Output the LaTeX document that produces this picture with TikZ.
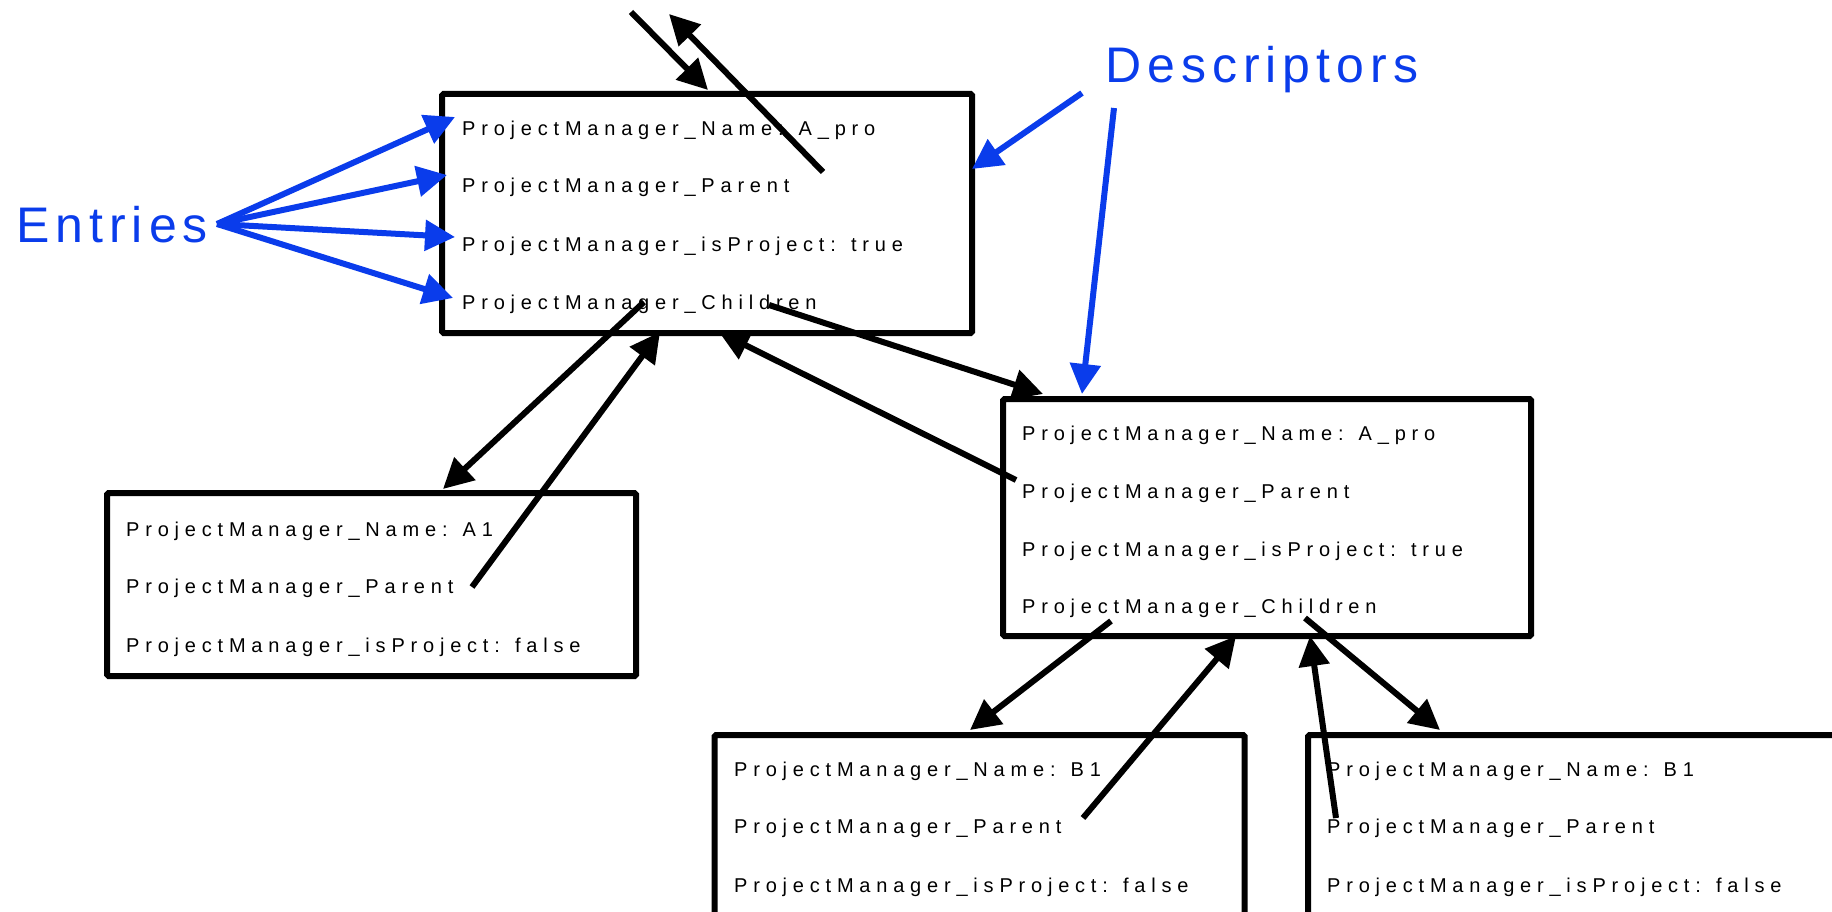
\documentclass[tikz,border=0pt]{standalone}
\usepackage{fontspec}
\setmainfont{Liberation Sans}
\newfontfamily\entryfont[LetterSpace=29]{Liberation Sans}
\newfontfamily\labelfont[LetterSpace=12]{Liberation Sans}
\usetikzlibrary{arrows.meta}
\definecolor{lblue}{RGB}{10,60,235}
\tikzset{
  box/.style={draw, line width=6pt, rounded corners=1.5pt, anchor=north west, inner sep=0pt},
  entry/.style={anchor=base west, inner sep=0pt, font=\entryfont\fontsize{20}{24}\selectfont},
  biglabel/.style={anchor=base west, inner sep=0pt, text=lblue, font=\labelfont\fontsize{50}{60}\selectfont},
  conn/.style={line width=6pt, -{Triangle[length=30pt,width=30pt]}},
  bconn/.style={conn, color=lblue}
}
\begin{document}
\begin{tikzpicture}[x=1pt,y=-1pt]
\useasboundingbox (0,0) rectangle (1832,912);
\clip (0,0) rectangle (1832,912);

% boxes
\node[box, minimum width=530pt, minimum height=239pt] (A) at (439,91) {};
\node[box, minimum width=528pt, minimum height=237pt] (B) at (1000,396) {};
\node[box, minimum width=529pt, minimum height=183pt] (C) at (104,490) {};
\node[box, minimum width=530pt, minimum height=200pt] (D) at (711.5,732) {};
\node[box, minimum width=530pt, minimum height=200pt] (E) at (1305,732) {};

% entries
\node[entry] (A1) at (462,136) {ProjectManager\_Name: A\_pro};
\node[entry] (A2) at (462,193) {ProjectManager\_Parent};
\node[entry] (A3) at (462,252) {ProjectManager\_isProject: true};
\node[entry] (A4) at (462,309) {ProjectManager\_Children};

\node[entry] (B1) at (1022,440) {ProjectManager\_Name: A\_pro};
\node[entry] (B2) at (1022,498) {ProjectManager\_Parent};
\node[entry] (B3) at (1022,556) {ProjectManager\_isProject: true};
\node[entry] (B4) at (1022,613) {ProjectManager\_Children};

\node[entry] (C1) at (126,536) {ProjectManager\_Name: A1};
\node[entry] (C2) at (126,593) {ProjectManager\_Parent};
\node[entry] (C3) at (126,652) {ProjectManager\_isProject: false};

\node[entry] (D1) at (734,776) {ProjectManager\_Name: B1};
\node[entry] (D2) at (734,833) {ProjectManager\_Parent};
\node[entry] (D3) at (734,892) {ProjectManager\_isProject: false};

\node[entry] (E1) at (1327,776) {ProjectManager\_Name: B1};
\node[entry] (E2) at (1327,833) {ProjectManager\_Parent};
\node[entry] (E3) at (1327,892) {ProjectManager\_isProject: false};

% labels
\node[biglabel] (Ent) at (16,243) {Entries};
\node[biglabel] (Desc) at (1105,83) {Descriptors};

% connector end points
\coordinate (topin) at (631,12);
\coordinate (Atop1) at (708,90);
\coordinate (Aname) at (823,172);
\coordinate (topout) at (669,14);
\coordinate (Achild1) at (644,302);
\coordinate (Ctop) at (443,489);
\coordinate (Cpar) at (472,587);
\coordinate (Abot1) at (660,332);
\coordinate (Achild2) at (769,305);
\coordinate (Btop1) at (1043,394);
\coordinate (Bpar) at (1016,480);
\coordinate (Abot2) at (719,332);
\coordinate (Bchild1) at (1111,621);
\coordinate (Dtop) at (970,730);
\coordinate (Dpar) at (1083,818);
\coordinate (Bbot1) at (1236,636);
\coordinate (Bchild2) at (1305,618);
\coordinate (Etop) at (1440,730);
\coordinate (Epar) at (1336,818);
\coordinate (Bbot2) at (1310,636);

\coordinate (EntP) at (217,224);
\coordinate (Ae1) at (455,117);
\coordinate (Ae2) at (447,175);
\coordinate (Ae3) at (455,237);
\coordinate (Ae4) at (453,298);
\coordinate (Ds1) at (1082,93);
\coordinate (Aright) at (972,169);
\coordinate (Ds2) at (1114,108);
\coordinate (Btop2) at (1082,394);

% black connectors
\draw[conn] (topin) -- (Atop1);
\draw[conn] (Aname) -- (topout);
\draw[conn] (Achild1) -- (Ctop);
\draw[conn] (Cpar) -- (Abot1);
\draw[conn] (Achild2) -- (Btop1);
\draw[conn] (Bpar) -- (Abot2);
\draw[conn] (Bchild1) -- (Dtop);
\draw[conn] (Dpar) -- (Bbot1);
\draw[conn] (Bchild2) -- (Etop);
\draw[conn] (Epar) -- (Bbot2);

% blue connectors
\draw[bconn] (EntP) -- (Ae1);
\draw[bconn] (EntP) -- (Ae2);
\draw[bconn] (EntP) -- (Ae3);
\draw[bconn] (EntP) -- (Ae4);
\draw[bconn] (Ds1) -- (Aright);
\draw[bconn] (Ds2) -- (Btop2);
\end{tikzpicture}
\end{document}
